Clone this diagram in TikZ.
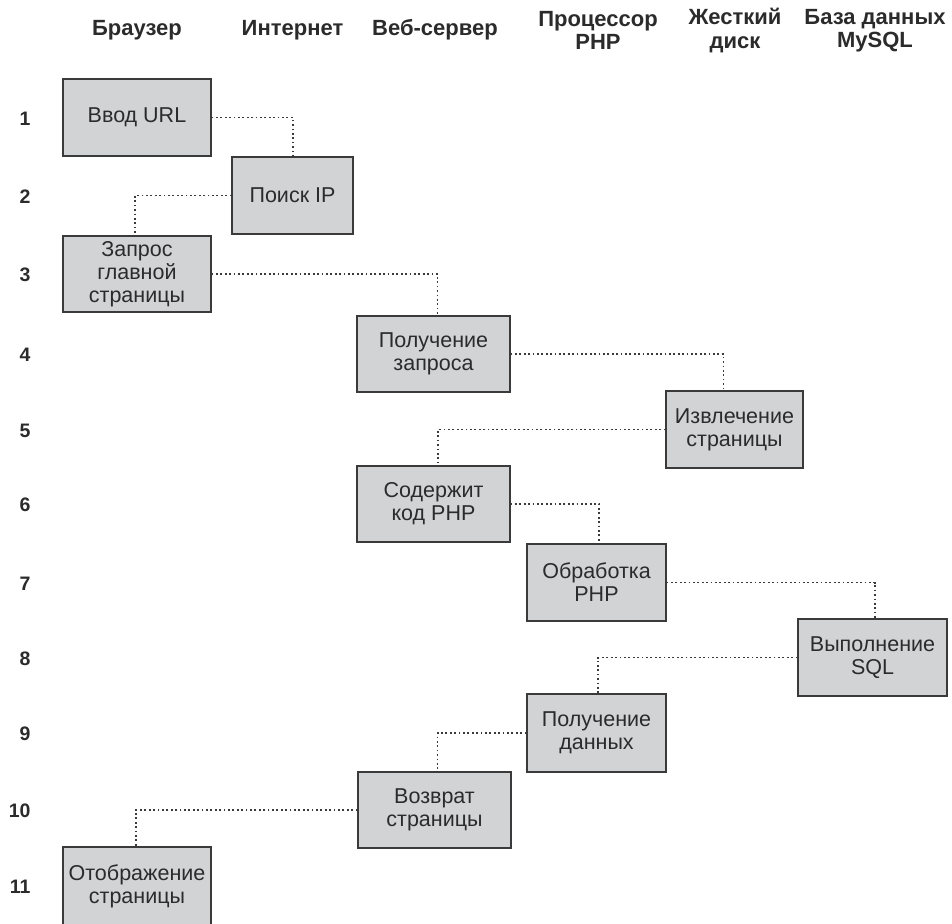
\documentclass[tikz,border=0pt]{standalone}
\usepackage{fontspec}
\setmainfont{Liberation Sans}
\definecolor{boxfill}{HTML}{D2D3D5}
\definecolor{boxline}{HTML}{3A3A3A}
\definecolor{txt}{HTML}{2B2B2B}
\begin{document}
\begin{tikzpicture}[x=1pt,y=1pt,
  box/.style={draw=boxline, fill=boxfill, line width=1.3pt, minimum height=77pt,
    inner sep=0pt, align=center, text=txt, font=\fontsize{21.5}{23}\selectfont},
  head/.style={align=center, text=txt, font=\bfseries\fontsize{22}{23.5}\selectfont},
  num/.style={anchor=east, text=txt, font=\bfseries\fontsize{19.5}{20}\selectfont},
  link/.style={draw=boxline, line width=1.2pt, dash pattern=on 1.7pt off 2.7pt}]
\useasboundingbox (0,0) rectangle (952,-923);
% headers
\node[head] (h1) at (137,-30) {Браузер};
\node[head] (h2) at (292.5,-30) {Интернет};
\node[head] (h3) at (435,-30) {Веб-сервер};
\node[head] (h4) at (598,-30.5) {Процессор\\PHP};
\node[head] (h5) at (735,-30.5) {Жесткий\\диск};
\node[head] (h6) at (875,-30.5) {База данных\\MySQL};
% row numbers
\node[num] (n1) at (34,-118.5) {1};
\node[num] (n2) at (34,-196.5) {2};
\node[num] (n3) at (34,-275) {3};
\node[num] (n4) at (34,-355) {4};
\node[num] (n5) at (34,-430.5) {5};
\node[num] (n6) at (34,-505) {6};
\node[num] (n7) at (34,-583.5) {7};
\node[num] (n8) at (34,-658.5) {8};
\node[num] (n9) at (34,-734) {9};
\node[num] (n10) at (34,-811) {10};
\node[num] (n11) at (34,-887) {11};
% boxes
\node[box, minimum width=148pt] (b1) at (137,-117.5) {Ввод URL};
\node[box, minimum width=121pt] (b2) at (292.5,-195.5) {Поиск IP};
\node[box, minimum width=148pt, minimum height=76pt] (b3) at (137,-274) {Запрос\\главной\\страницы};
\node[box, minimum width=153pt, minimum height=76pt] (b4) at (433.5,-354) {Получение\\запроса};
\node[box, minimum width=137pt] (b5) at (734.5,-429.5) {Извлечение\\страницы};
\node[box, minimum width=153pt, minimum height=76pt] (b6) at (433.5,-504) {Содержит\\код PHP};
\node[box, minimum width=139pt] (b7) at (596.5,-582.5) {Обработка\\PHP};
\node[box, minimum width=149pt] (b8) at (872.5,-657.5) {Выполнение\\SQL};
\node[box, minimum width=139pt, minimum height=78pt] (b9) at (596.5,-733) {Получение\\данных};
\node[box, minimum width=153pt, minimum height=76pt] (b10) at (434.5,-810) {Возврат\\страницы};
\node[box, minimum width=148pt, minimum height=78pt] (b11) at (137,-886) {Отображение\\страницы};
% connectors
\draw[link] (b1.east) -| ([xshift=0.5pt]b2.north);
\draw[link] (b2.west) -| ([xshift=-2pt]b3.north);
\draw[link] (b3.east) -| ([xshift=4pt]b4.north);
\draw[link] (b4.east) -| ([xshift=-11pt]b5.north);
\draw[link] (b5.west) -| ([xshift=4.5pt]b6.north);
\draw[link] (b6.east) -| ([xshift=2.5pt]b7.north);
\draw[link] (b7.east) -| ([xshift=2.5pt]b8.north);
\draw[link] (b8.west) -| ([xshift=1.5pt]b9.north);
\draw[link] (b9.west) -| ([xshift=3pt]b10.north);
\draw[link] (b10.west) -| ([xshift=-1pt]b11.north);
\end{tikzpicture}
\end{document}
